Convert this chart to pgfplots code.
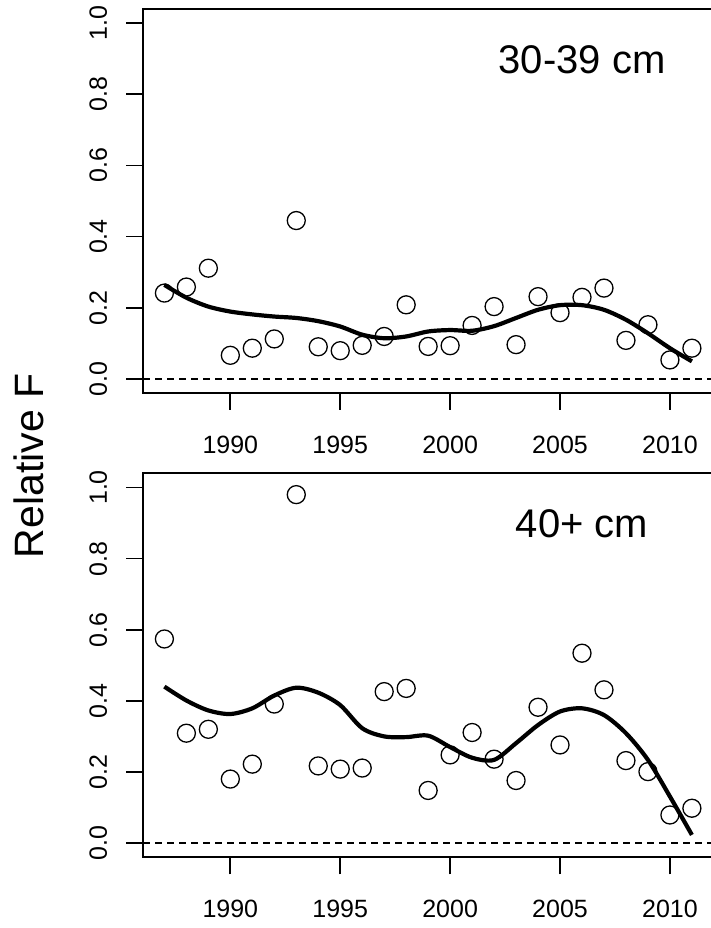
\documentclass[border=0pt]{standalone}
\usepackage{fontspec}
\setmainfont{Liberation Sans}
\usepackage{pgfplots}
\pgfplotsset{compat=1.18}

\pgfplotsset{
  panel/.style={
    scale only axis,
    width=569.7pt, height=384pt,
    xmin=1986.04, xmax=2011.96,
    ymin=-0.04, ymax=1.04,
    axis line style={line width=1.7pt},
    every tick/.style={line width=1.7pt, black},
    tick align=outside,
    major tick length=17pt,
    xtick pos=bottom, ytick pos=left,
    xtick={1990,1995,2000,2005,2010},
    ytick={0,0.2,0.4,0.6,0.8,1.0},
    /pgf/number format/assume math mode=true,
    /pgf/number format/1000 sep={},
    yticklabel={\pgfmathprintnumber[fixed,fixed zerofill,precision=1]{\tick}},
    tick label style={font=\fontsize{25}{30}\selectfont},
    xticklabel style={anchor=center, yshift=-35pt},
    yticklabel style={rotate=90, anchor=center, yshift=28pt},
    clip=false,
  },
  pts/.style={only marks, mark=o, mark size=9pt, line width=1.3pt, black},
  fit/.style={no marks, smooth, line width=4.2pt, black},
  zero/.style={no marks, black, line width=1.5pt, dash pattern=on 6.5pt off 5.5pt},
}

\begin{document}
\begin{tikzpicture}[x=1pt,y=1pt]
\path[use as bounding box] (0,0) rectangle (711,928);

% ---------- top panel ----------
\begin{axis}[panel, at={(143.3pt,535pt)}, anchor=south west]
\addplot[zero] coordinates {(1986.04,0) (2011.96,0)};
\addplot[fit] coordinates {
(1987,0.264) (1988,0.228) (1989,0.203) (1990,0.189) (1991,0.181) (1992,0.175)
(1993,0.171) (1994,0.162) (1995,0.147) (1996,0.124) (1997,0.114) (1998,0.119)
(1999,0.133) (2000,0.137) (2001,0.135) (2002,0.148) (2003,0.171) (2004,0.194)
(2005,0.207) (2006,0.207) (2007,0.194) (2008,0.166) (2009,0.128) (2010,0.086)
(2011,0.049)};
\addplot[pts] coordinates {
(1987,0.241) (1988,0.258) (1989,0.311) (1990,0.066) (1991,0.086) (1992,0.112)
(1993,0.445) (1994,0.090) (1995,0.079) (1996,0.094) (1997,0.119) (1998,0.208)
(1999,0.091) (2000,0.093) (2001,0.150) (2002,0.203) (2003,0.096) (2004,0.231)
(2005,0.186) (2006,0.229) (2007,0.255) (2008,0.108) (2009,0.152) (2010,0.053)
(2011,0.086)};
\node[font=\fontsize{40}{48}\selectfont, inner sep=0pt] at (axis cs:2006,0.897) {30-39 cm};
\end{axis}

% ---------- bottom panel ----------
\begin{axis}[panel, at={(143.3pt,70.7pt)}, anchor=south west]
\addplot[zero] coordinates {(1986.04,0) (2011.96,0)};
\addplot[fit] coordinates {
(1987,0.440) (1988,0.401) (1989,0.373) (1990,0.363) (1991,0.379) (1992,0.415)
(1993,0.437) (1994,0.423) (1995,0.388) (1996,0.323) (1997,0.300) (1998,0.298)
(1999,0.302) (2000,0.270) (2001,0.240) (2002,0.234) (2003,0.281) (2004,0.332)
(2005,0.370) (2006,0.379) (2007,0.360) (2008,0.309) (2009,0.234) (2010,0.131)
(2011,0.023)};
\addplot[pts] coordinates {
(1987,0.574) (1988,0.309) (1989,0.320) (1990,0.180) (1991,0.222) (1992,0.391)
(1993,0.980) (1994,0.217) (1995,0.208) (1996,0.211) (1997,0.426) (1998,0.435)
(1999,0.148) (2000,0.248) (2001,0.311) (2002,0.236) (2003,0.176) (2004,0.382)
(2005,0.276) (2006,0.534) (2007,0.431) (2008,0.232) (2009,0.201) (2010,0.079)
(2011,0.098)};
\node[font=\fontsize{40}{48}\selectfont, inner sep=0pt] at (axis cs:2006,0.897) {40+ cm};
\end{axis}

\node[rotate=90, font=\fontsize{41}{48}\selectfont, inner sep=0pt] at (29,462) {Relative F};
\end{tikzpicture}
\end{document}
